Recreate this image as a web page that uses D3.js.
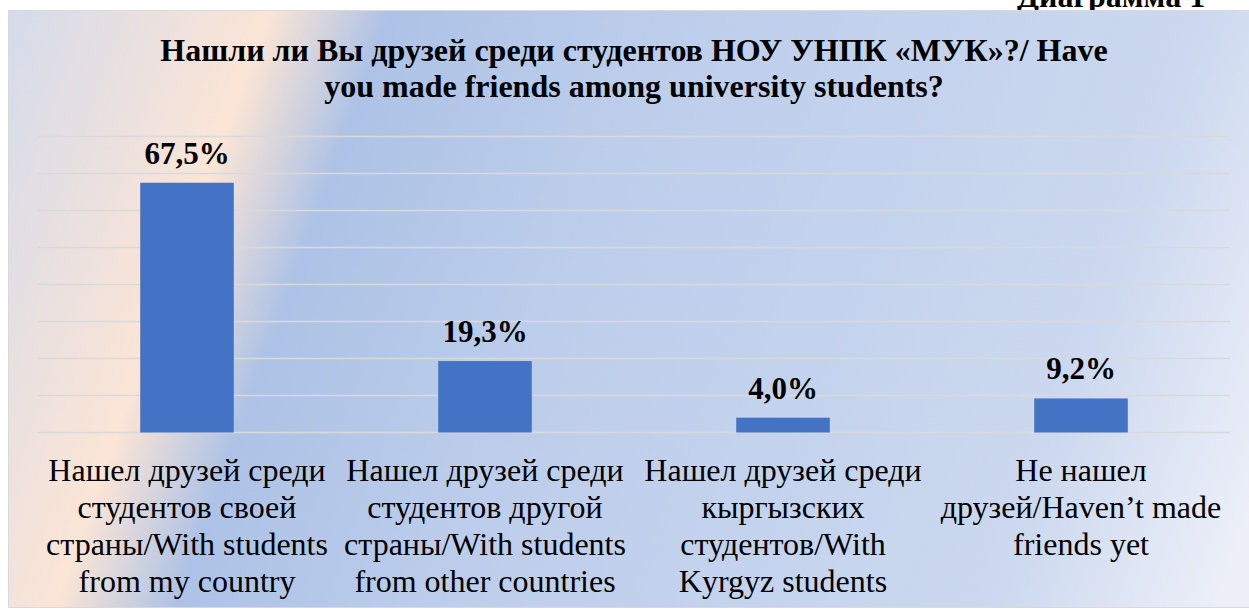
<!DOCTYPE html>
<html>
<head>
<meta charset="utf-8">
<script src="https://cdn.jsdelivr.net/npm/d3@7"></script>
<style>
  body { margin: 0; overflow: hidden; font-family: "Liberation Serif"; }
  text, tspan { font-family: "Liberation Serif" !important; }
</style>
</head>
<body>
<div id="chart"></div>
<script>
// bar chart: "Нашли ли Вы друзей среди студентов..."

const categories = [
  ["Нашел друзей среди", "студентов своей", "страны/With students", "from my country"],
  ["Нашел друзей среди", "студентов другой", "страны/With students", "from other countries"],
  ["Нашел друзей среди", "кыргызских", "студентов/With", "Kyrgyz students"],
  ["Не нашел", "друзей/Haven’t made", "friends yet"]
];
const values = [67.5, 19.3, 4.0, 9.2];
const yTicks = [0, 10, 20, 30, 40, 50, 60, 70, 80];
const titleLines = [
  "Нашли ли Вы друзей среди студентов НОУ УНПК «МУК»?/ Have",
  "you made friends among university students?"
];

const W = 1249;
const H = 610;
const FONT = "Liberation Serif";

const svg = d3.select("#chart").append("svg")
  .attr("width", W)
  .attr("height", H)
  .attr("font-family", FONT);

// caption above the chart, mostly hidden behind it
svg.append("text")
  .attr("x", 1017)
  .attr("y", 7)
  .attr("font-family", FONT)
  .attr("font-size", 32)
  .attr("font-weight", "bold")
  .attr("fill", "#000")
  .text("Диаграмма 1");

// background gradient
const grad = svg.append("defs").append("linearGradient")
  .attr("id", "bg")
  .attr("gradientUnits", "userSpaceOnUse")
  .attr("x1", 0).attr("y1", 0)
  .attr("x2", 1270).attr("y2", 457);
[
  [0, "#d3daec"],
  [0.19, "#fbe5d6"],
  [0.275, "#adc2e6"],
  [0.45, "#bccdeb"],
  [0.84, "#cbd8ef"],
  [1, "#eceff8"]
].forEach(s => grad.append("stop").attr("offset", s[0]).attr("stop-color", s[1]));

svg.append("rect")
  .attr("x", 8.5)
  .attr("y", 10.5)
  .attr("width", 1300)
  .attr("height", 597)
  .attr("fill", "url(#bg)")
  .attr("stroke", "#d9d9d9")
  .attr("stroke-width", 1);

// title
titleLines.forEach((t, i) => {
  svg.append("text")
    .attr("x", 634)
    .attr("y", 61 + i * 36)
    .attr("text-anchor", "middle")
    .attr("font-family", FONT)
    .attr("font-size", 32)
    .attr("font-weight", "bold")
    .attr("fill", "#000")
    .text(t);
});

// scales
const x = d3.scaleBand()
  .domain(d3.range(values.length))
  .range([38, 1230])
  .paddingInner(0.686)
  .paddingOuter(0.343);

const y = d3.scaleLinear()
  .domain([0, 80])
  .range([432.5, 136.5]);

// gridlines
svg.selectAll("line.grid")
  .data(yTicks)
  .join("line")
  .attr("class", "grid")
  .attr("x1", 38)
  .attr("x2", 1230)
  .attr("y1", d => y(d))
  .attr("y2", d => y(d))
  .attr("stroke", "#d9d9d9")
  .attr("stroke-width", 1.5);

// bars
svg.selectAll("rect.bar")
  .data(values)
  .join("rect")
  .attr("class", "bar")
  .attr("x", (d, i) => x(i))
  .attr("y", d => y(d))
  .attr("width", x.bandwidth())
  .attr("height", d => y(0) - y(d))
  .attr("fill", "#4472c4");

// value labels
values.forEach((v, i) => {
  svg.append("text")
    .attr("x", x(i) + x.bandwidth() / 2)
    .attr("y", y(v) - 19)
    .attr("text-anchor", "middle")
    .attr("font-family", FONT)
    .attr("font-size", 31)
    .attr("font-weight", "bold")
    .attr("fill", "#000")
    .text(v.toFixed(1).replace(".", ",") + "%");
});

// category labels, one text per line
categories.forEach((lines, i) => {
  const cx = x(i) + x.bandwidth() / 2;
  lines.forEach((line, j) => {
    svg.append("text")
      .attr("x", cx)
      .attr("y", 481 + j * 37)
      .attr("text-anchor", "middle")
      .attr("font-family", FONT)
      .attr("font-size", 32)
      .attr("fill", "#000")
      .text(line);
  });
});
</script>
</body>
</html>
